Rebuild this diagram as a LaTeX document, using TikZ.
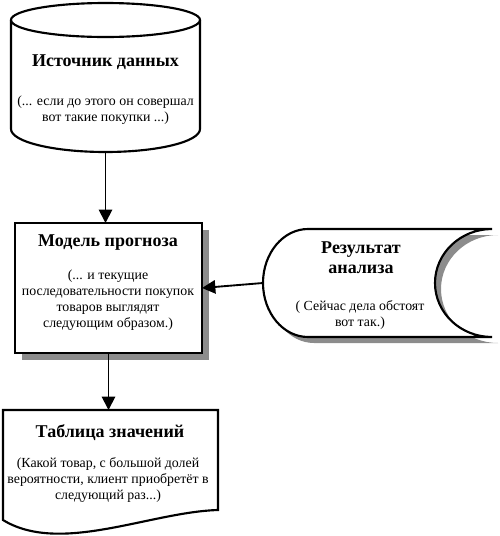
\documentclass[tikz,border=0pt]{standalone}
\usepackage{fontspec}
\setmainfont{Liberation Serif}
\usetikzlibrary{arrows.meta, positioning, shadows}

\tikzset{
  frame/.style={inner sep=0pt, outer sep=0pt},
  title/.style={font=\bfseries\fontsize{13.5}{15}\selectfont, align=center},
  body/.style={font=\fontsize{10.4}{12}\selectfont, align=center},
  outline/.style={line width=1.6pt},
  shade/.style={fill=black!45},
  flow/.style={-{Triangle[length=10pt,width=10pt]}, line width=1.4pt}
}

\begin{document}
\begin{tikzpicture}[x=0.75pt, y=-0.75pt]
  \useasboundingbox (0,0) rectangle (500,536);

  % data source
  \node[frame, minimum width=141.75pt, minimum height=111.75pt] (src) at (105.5,77.5) {};
  \draw[outline] (11,20) -- (11,129) arc[start angle=180, end angle=0, x radius=94.5, y radius=23] -- (200,20);
  \draw[outline] (105.5,20) ellipse[x radius=94.5, y radius=17];
  \node[title] (srcT) at (105.5,62) {Источник данных};
  \node[body] (srcB) at (105.5,110) {(... если до этого он совершал\\вот такие покупки ...)};

  % model
  \node[frame, draw, outline, fill=white, minimum width=140.25pt, minimum height=97.5pt,
        drop shadow={shadow xshift=5pt, shadow yshift=-5pt, fill=black!45, opacity=1}]
        (model) at (108.5,288) {};
  \node[title] (modT) at (108,243) {Модель прогноза};
  \node[body] (modB) at (108,300) {(... и текущие\\последовательности покупок\\товаров выглядят\\следующим образом.)};

  % stored result
  \node[frame, minimum width=171.75pt, minimum height=81pt] (res) at (377.5,283) {};
  \begin{scope}[shift={(6,6)}]
    \fill[shade] (308,229) -- (492,229) arc[start angle=270, end angle=90, x radius=57, y radius=54]
      -- (308,337) arc[start angle=90, end angle=270, x radius=45, y radius=54] -- cycle;
  \end{scope}
  \draw[outline, fill=white] (308,229) -- (492,229) arc[start angle=270, end angle=90, x radius=57, y radius=54]
    -- (308,337) arc[start angle=90, end angle=270, x radius=45, y radius=54] -- cycle;
  \node[title] (resT) at (361,258) {Результат\\анализа};
  \node[body] (resB) at (360,315) {( Сейчас дела обстоят\\вот так.)};

  % table
  \node[frame, minimum width=161.25pt, minimum height=82.5pt] (tab) at (110.5,465) {};
  \draw[outline] (3,410) -- (218,410) -- (218,510) .. controls (150,512) and (60,555) .. (3,520) -- cycle;
  \node[title] (tabT) at (110,433) {Таблица значений};
  \node[body] (tabB) at (108,480) {(Какой товар, с большой долей\\вероятности, клиент приобретёт в\\следующий раз...)};

  \draw[flow] (src.south) -- (src.south |- model.north);
  \draw[flow] (res.west) -- (model.east);
  \draw[flow] (model.south) -- (model.south |- tab.north);
\end{tikzpicture}
\end{document}
